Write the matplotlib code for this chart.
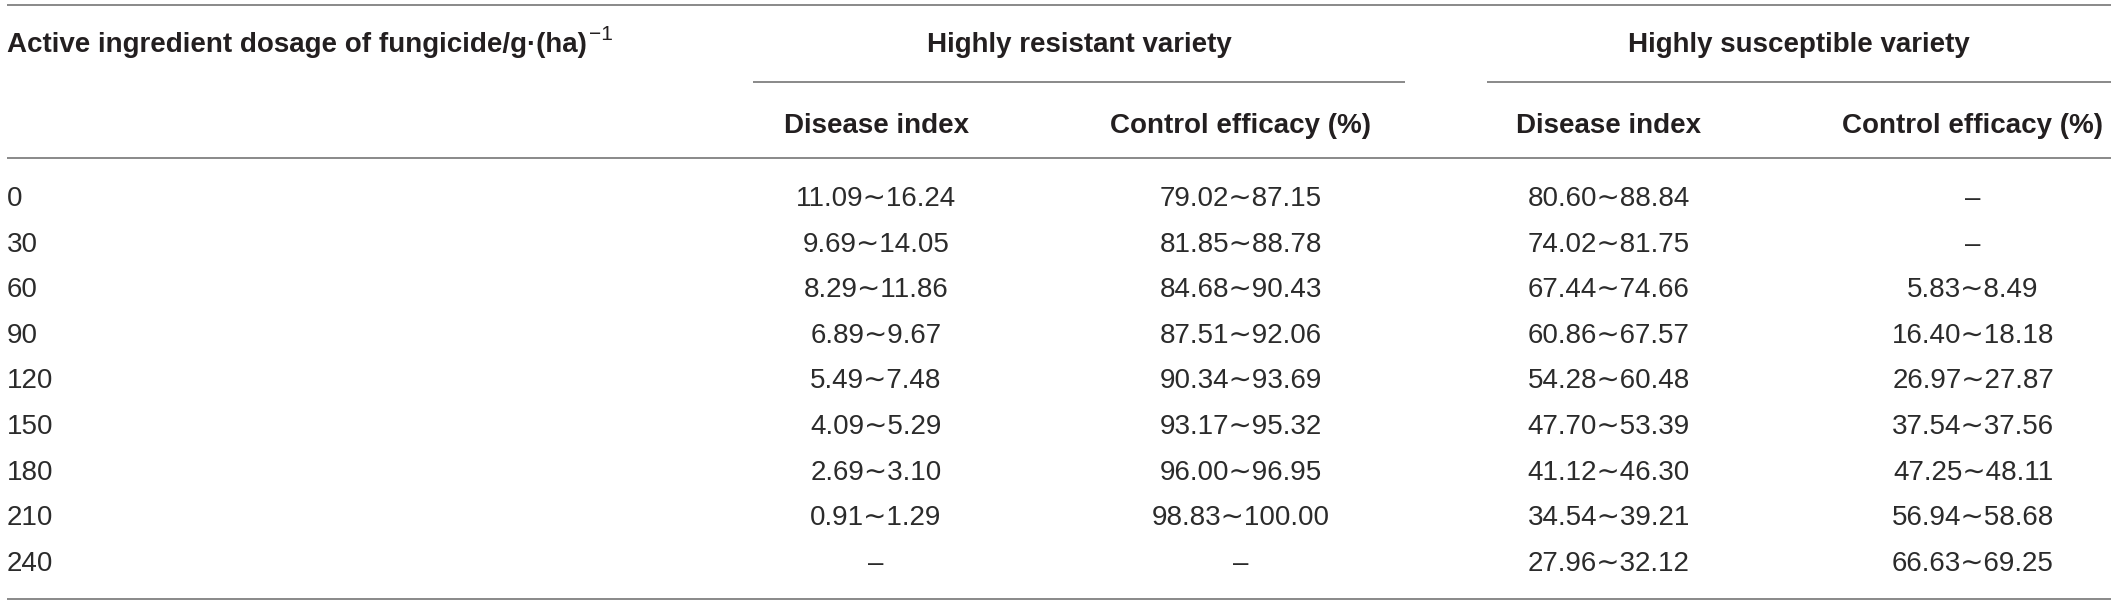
import matplotlib
matplotlib.use("Agg")
import matplotlib.pyplot as plt

# table values (None = no value, drawn as a dash)
doses = [0, 30, 60, 90, 120, 150, 180, 210, 240]
res_di_low = [11.09, 9.69, 8.29, 6.89, 5.49, 4.09, 2.69, 0.91, None]
res_di_high = [16.24, 14.05, 11.86, 9.67, 7.48, 5.29, 3.10, 1.29, None]
res_ce_low = [79.02, 81.85, 84.68, 87.51, 90.34, 93.17, 96.00, 98.83, None]
res_ce_high = [87.15, 88.78, 90.43, 92.06, 93.69, 95.32, 96.95, 100.00, None]
sus_di_low = [80.60, 74.02, 67.44, 60.86, 54.28, 47.70, 41.12, 34.54, 27.96]
sus_di_high = [88.84, 81.75, 74.66, 67.57, 60.48, 53.39, 46.30, 39.21, 32.12]
sus_ce_low = [None, None, 5.83, 16.40, 26.97, 37.54, 47.25, 56.94, 66.63]
sus_ce_high = [None, None, 8.49, 18.18, 27.87, 37.56, 48.11, 58.68, 69.25]

first_header = "Active ingredient dosage of fungicide/g·(ha)"
first_header_sup = "−1"
groups = ["Highly resistant variety", "Highly susceptible variety"]
sub_headers = ["Disease index", "Control efficacy (%)",
               "Disease index", "Control efficacy (%)"]

FONT = ['Liberation Sans', 'DejaVu Sans']
W, H = 2118, 614
fig = plt.figure(figsize=(W / 100, H / 100), dpi=100)
ax = fig.add_axes([0, 0, 1, 1])
ax.set_xlim(0, W)
ax.set_ylim(H, 0)
ax.axis('off')

HEAD_COLOR = '#231f20'
BODY_COLOR = '#2b2b2b'
RULE_COLOR = '#808080'
FS = 20

# layout (pixels)
left, right = 7, 2111
col_x = [876, 1241, 1609, 1973]
group_spans = [(753, 1405), (1487, 2111)]
row0, row_step = 206, 45.6


def rng(lo, hi):
    if lo is None:
        return "–"
    return f"{lo:.2f}∼{hi:.2f}"


# rules
for y in (5, 158, 599):
    ax.plot([left, right], [y, y], color=RULE_COLOR, lw=1.3, solid_capstyle='butt')
for x0, x1 in group_spans:
    ax.plot([x0, x1], [82, 82], color=RULE_COLOR, lw=1.3, solid_capstyle='butt')

# headers
t = ax.text(left, 52, first_header, fontsize=FS, fontweight='bold', family=FONT,
            color=HEAD_COLOR, ha='left', va='baseline')
fig.canvas.draw()
bb = t.get_window_extent(renderer=fig.canvas.get_renderer())
ax.text(bb.x1 + 2, 40, first_header_sup, fontsize=15, family=FONT,
        color=HEAD_COLOR, ha='left', va='baseline')

for name, (x0, x1) in zip(groups, group_spans):
    ax.text((x0 + x1) / 2, 52, name, fontsize=FS, fontweight='bold', family=FONT,
            color=HEAD_COLOR, ha='center', va='baseline')
for name, x in zip(sub_headers, col_x):
    ax.text(x, 133, name, fontsize=FS, fontweight='bold', family=FONT,
            color=HEAD_COLOR, ha='center', va='baseline')

# body
columns = [(res_di_low, res_di_high), (res_ce_low, res_ce_high),
           (sus_di_low, sus_di_high), (sus_ce_low, sus_ce_high)]
for i, d in enumerate(doses):
    y = row0 + i * row_step
    ax.text(left, y, str(d), fontsize=FS, family=FONT, color=BODY_COLOR,
            ha='left', va='baseline')
    for (lows, highs), x in zip(columns, col_x):
        ax.text(x, y, rng(lows[i], highs[i]), fontsize=FS, family=FONT,
                color=BODY_COLOR, ha='center', va='baseline')

fig.savefig('out.png', dpi=100)
